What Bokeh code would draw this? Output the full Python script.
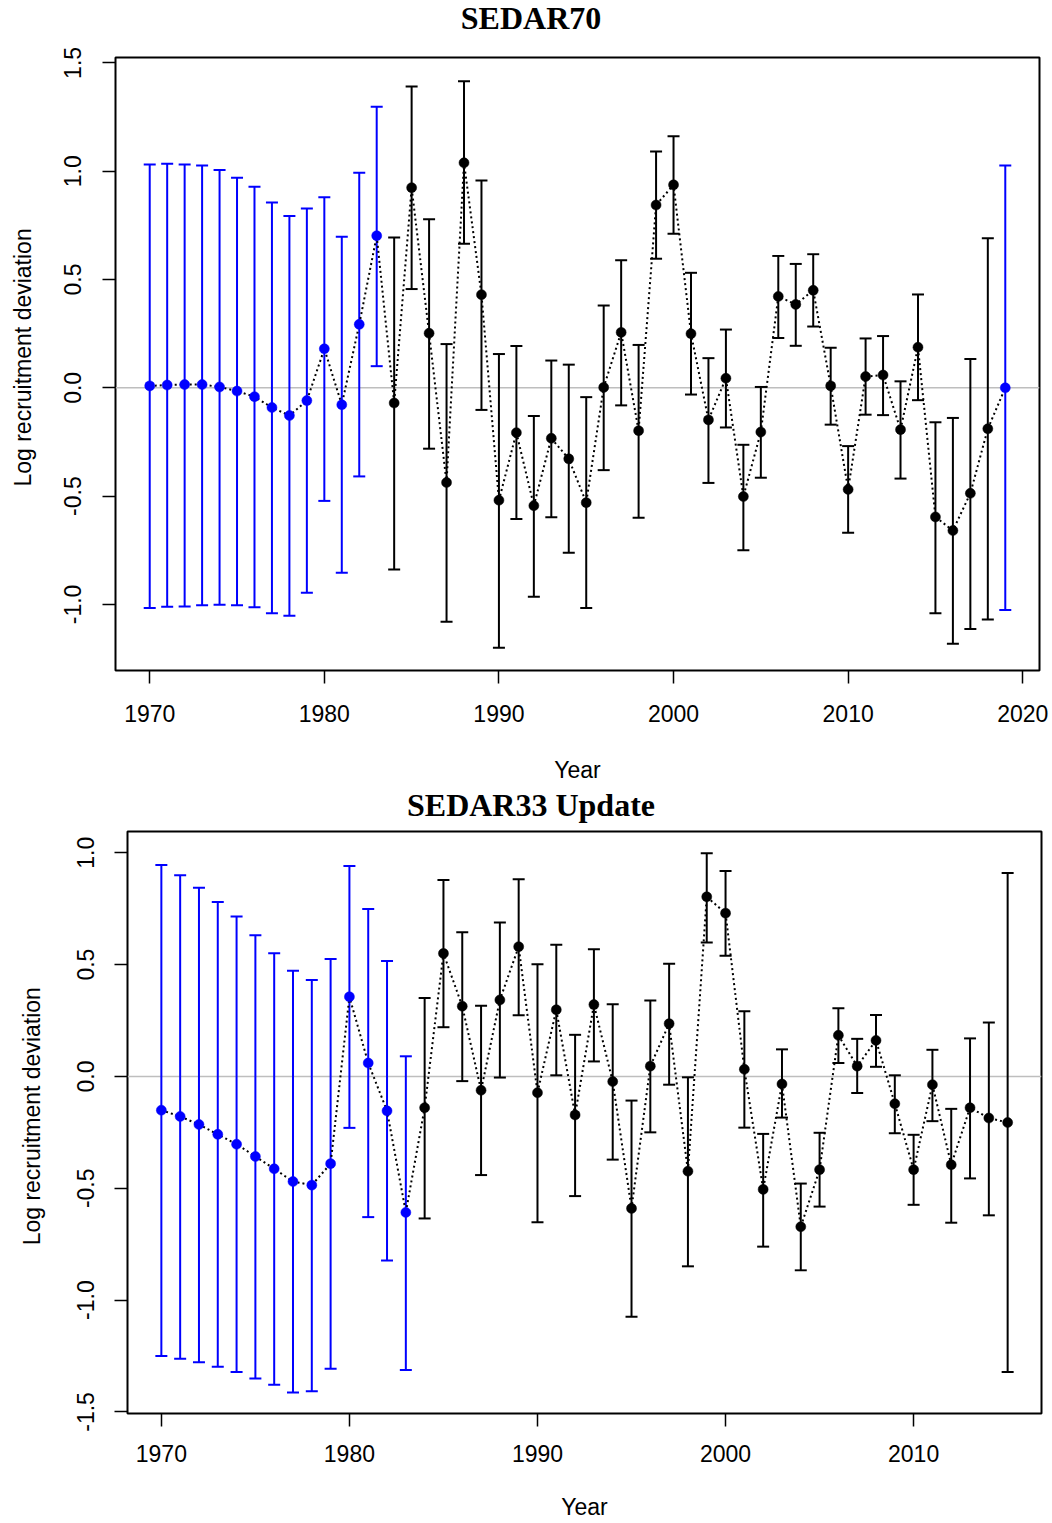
import numpy as np
from bokeh.plotting import figure
from bokeh.models import (ColumnDataSource, Whisker, TeeHead, Span, FixedTicker,
                          Label, PrintfTickFormatter, Range1d)
from bokeh.layouts import column, row
from bokeh.embed import file_html
from bokeh.resources import INLINE

# ---------------- SEDAR70 ----------------
s70_years = list(range(1970, 2020))
s70_dev = [0.009, 0.013, 0.015, 0.015, 0.004, -0.015, -0.041, -0.091, -0.128, -0.059,
           0.180, -0.078, 0.293, 0.702,
           -0.070, 0.924, 0.252, -0.437, 1.039, 0.430,
           -0.519, -0.207, -0.544, -0.233, -0.328, -0.530, 0.002, 0.256, -0.198, 0.844,
           0.937, 0.250, -0.148, 0.044, -0.502, -0.204, 0.422, 0.385, 0.450, 0.009,
           -0.469, 0.052, 0.059, -0.193, 0.187, -0.596, -0.659, -0.487, -0.189, 0.000]
s70_upper = [1.031, 1.035, 1.031, 1.026, 1.006, 0.970, 0.928, 0.856, 0.793, 0.828,
             0.880, 0.698, 0.993, 1.298,
             0.694, 1.391, 0.778, 0.202, 1.415, 0.957,
             0.156, 0.193, -0.130, 0.126, 0.107, -0.043, 0.380, 0.589, 0.198, 1.091,
             1.161, 0.531, 0.137, 0.269, -0.263, 0.004, 0.609, 0.572, 0.617, 0.185,
             -0.269, 0.228, 0.239, 0.030, 0.431, -0.159, -0.139, 0.133, 0.691, 1.026]
s70_lower = [-1.017, -1.011, -1.009, -1.004, -1.002, -1.004, -1.013, -1.041, -1.052, -0.946,
             -0.522, -0.854, -0.409, 0.100,
             -0.839, 0.456, -0.281, -1.080, 0.665, -0.102,
             -1.200, -0.606, -0.965, -0.598, -0.761, -1.017, -0.380, -0.081, -0.600, 0.596,
             0.711, -0.031, -0.439, -0.183, -0.750, -0.415, 0.230, 0.194, 0.283, -0.170,
             -0.669, -0.124, -0.126, -0.419, -0.057, -1.041, -1.181, -1.113, -1.069, -1.026]
s70_blue_years = list(range(1970, 1984)) + [2019]
s70_xticks = [1970, 1980, 1990, 2000, 2010, 2020]
s70_yticks = [-1.0, -0.5, 0.0, 0.5, 1.0, 1.5]

# ---------------- SEDAR33 Update ----------------
s33_years = list(range(1970, 2016))
s33_dev = [-0.151, -0.179, -0.215, -0.259, -0.303, -0.358, -0.413, -0.470, -0.486, -0.390,
           0.356, 0.060, -0.154, -0.608,
           -0.140, 0.550, 0.314, -0.062, 0.342, 0.580,
           -0.073, 0.298, -0.172, 0.321, -0.023, -0.590, 0.046, 0.236, -0.424, 0.803,
           0.730, 0.032, -0.505, -0.034, -0.672, -0.417, 0.184, 0.046, 0.161, -0.122,
           -0.417, -0.037, -0.395, -0.140, -0.186, -0.206]
s33_upper = [0.945, 0.899, 0.844, 0.780, 0.715, 0.631, 0.551, 0.472, 0.431, 0.525,
             0.941, 0.748, 0.516, 0.090,
             0.351, 0.878, 0.645, 0.316, 0.688, 0.881,
             0.502, 0.589, 0.186, 0.569, 0.323, -0.108, 0.339, 0.504, -0.004, 0.998,
             0.918, 0.291, -0.257, 0.121, -0.479, -0.252, 0.305, 0.168, 0.275, 0.005,
             -0.261, 0.119, -0.145, 0.170, 0.241, 0.910]
s33_lower = [-1.250, -1.262, -1.278, -1.298, -1.321, -1.351, -1.379, -1.413, -1.408, -1.307,
             -0.230, -0.629, -0.823, -1.312,
             -0.635, 0.220, -0.021, -0.441, -0.005, 0.273,
             -0.652, 0.005, -0.535, 0.067, -0.372, -1.074, -0.250, -0.037, -0.849, 0.599,
             0.539, -0.229, -0.761, -0.184, -0.867, -0.582, 0.060, -0.074, 0.043, -0.254,
             -0.574, -0.200, -0.654, -0.456, -0.621, -1.321]
s33_blue_years = list(range(1970, 1984))
s33_xticks = [1970, 1980, 1990, 2000, 2010]
s33_yticks = [-1.5, -1.0, -0.5, 0.0, 0.5, 1.0]

SANS = "Liberation Sans"
SERIF = "Liberation Serif"
BLUE = "#0000FF"
Y_LABEL = "Log recruitment deviation"
X_LABEL = "Year"


def text_fig(w, h):
    """Blank canvas (1 data unit = 1 px) that holds a piece of text."""
    f = figure(width=w, height=h, x_range=Range1d(0, w), y_range=Range1d(0, h),
               output_backend="svg", toolbar_location=None, title_location=None,
               x_axis_location=None, y_axis_location=None, min_border=0,
               outline_line_color=None, background_fill_color="white",
               border_fill_color="white")
    for g in f.grid:
        g.visible = False
    return f


def title_fig(text, w, h, cx, by):
    f = text_fig(w, h)
    f.add_layout(Label(x=cx, y=by, text=text, text_font=SERIF,
                       text_font_size="32px", text_font_style="bold",
                       text_color="black", text_align="center",
                       text_baseline="alphabetic"))
    return f


def ylabel_fig(w, h, bx, cy):
    f = text_fig(w, h)
    f.add_layout(Label(x=bx, y=cy, text=Y_LABEL, text_font=SANS,
                       text_font_size="23px", text_color="black",
                       text_align="center", text_baseline="alphabetic",
                       angle=np.pi / 2))
    return f


def make_panel(years, dev, lower, upper, blue_years, xticks, yticks,
               xr, yr, fw, fh, bl, bt, br, bb,
               ytick_standoff, xtick_standoff, xlabel_standoff):
    p = figure(frame_width=fw, frame_height=fh,
               x_range=Range1d(*xr), y_range=Range1d(*yr),
               output_backend="svg", toolbar_location=None, title_location=None,
               min_border_left=bl, min_border_top=bt,
               min_border_right=br, min_border_bottom=bb,
               background_fill_color="white", border_fill_color="white")
    p.xgrid.visible = False
    p.ygrid.visible = False
    p.outline_line_color = "black"
    p.outline_line_width = 2
    p.outline_line_alpha = 1.0

    p.add_layout(Span(location=0, dimension="width", line_color="#BEBEBE",
                      line_width=1.5, level="underlay"))

    groups = []
    for is_blue, col in ((False, "black"), (True, BLUE)):
        idx = [i for i, y in enumerate(years) if (y in blue_years) == is_blue]
        groups.append((col, idx))

    for col, idx in groups:
        src = ColumnDataSource(dict(year=[years[i] for i in idx],
                                    lo=[lower[i] for i in idx],
                                    hi=[upper[i] for i in idx]))
        p.add_layout(Whisker(source=src, base="year", upper="hi", lower="lo",
                             line_color=col, line_width=2,
                             upper_head=TeeHead(size=12, line_color=col, line_width=2),
                             lower_head=TeeHead(size=12, line_color=col, line_width=2)))

    p.line(years, dev, line_color="black", line_width=2, line_dash="2 3")

    for col, idx in groups:
        p.scatter([years[i] for i in idx], [dev[i] for i in idx],
                  size=10, fill_color=col, line_color=col, line_width=0.5)

    for ax in (p.xaxis[0], p.yaxis[0]):
        ax.axis_line_color = None
        ax.major_tick_out = 13
        ax.major_tick_in = 0
        ax.major_tick_line_width = 1.5
        ax.major_tick_line_color = "black"
        ax.minor_tick_line_color = None
        ax.major_label_text_font = SANS
        ax.major_label_text_font_size = "23px"
        ax.major_label_text_color = "black"
        ax.axis_label_text_font = SANS
        ax.axis_label_text_font_size = "23px"
        ax.axis_label_text_font_style = "normal"
        ax.axis_label_text_color = "black"

    p.xaxis.ticker = FixedTicker(ticks=xticks)
    p.xaxis.axis_label = X_LABEL
    p.xaxis.major_label_standoff = xtick_standoff
    p.xaxis.axis_label_standoff = xlabel_standoff

    p.yaxis.ticker = FixedTicker(ticks=yticks)
    p.yaxis.formatter = PrintfTickFormatter(format="%.1f")
    p.yaxis.major_label_orientation = "vertical"
    p.yaxis.major_label_standoff = ytick_standoff
    return p


W = 1052

# top panel: frame x 115..1039, y 57..670
t1 = title_fig("SEDAR70", W, 40, 530.5, 23)
y1 = ylabel_fig(38, 746, 22.7, 381)
p1 = make_panel(s70_years, s70_dev, s70_lower, s70_upper, s70_blue_years,
                s70_xticks, s70_yticks,
                xr=(1968.04, 2020.96), yr=(-1.305, 1.525),
                fw=924, fh=613, bl=77, bt=17, br=13, bb=116,
                ytick_standoff=21, xtick_standoff=21, xlabel_standoff=32)

# bottom panel: frame x 127..1041, y 831..1413
t2 = title_fig("SEDAR33 Update", W, 40, 530.5, 21.5)
y2 = ylabel_fig(48, 697, 31.0, 356)
p2 = make_panel(s33_years, s33_dev, s33_lower, s33_upper, s33_blue_years,
                s33_xticks, s33_yticks,
                xr=(1968.2, 2016.8), yr=(-1.507, 1.095),
                fw=914, fh=582, bl=79, bt=5, br=11, bb=110,
                ytick_standoff=20, xtick_standoff=18, xlabel_standoff=29)

layout = column(t1, row(y1, p1), t2, row(y2, p2))
open("out.html", "w").write(file_html(layout, INLINE))
